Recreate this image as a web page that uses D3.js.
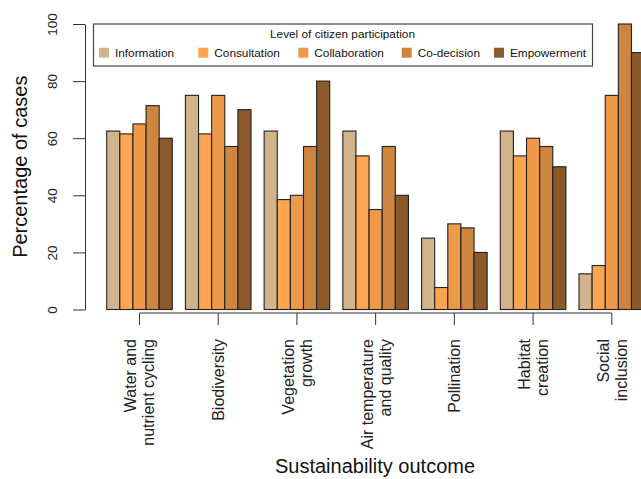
<!DOCTYPE html>
<html>
<head>
<meta charset="utf-8">
<script src="https://cdn.jsdelivr.net/npm/d3@7"></script>
<style>
  body { margin: 0; background: #fff; }
  svg { font-family: "Liberation Sans", Arial, sans-serif; display: block; }
</style>
</head>
<body>
<svg id="vis_svg" width="641" height="479"></svg>
<script>
// Data
let outcomes = ['Water and nutrient cycling', 'Biodiversity', 'Vegetation growth',
    'Air temperature and quality', 'Pollination', 'Habitat creation', 'Social inclusion'];
let outcomeLines = [['Water and', 'nutrient cycling'], ['Biodiversity'], ['Vegetation', 'growth'],
    ['Air temperature', 'and quality'], ['Pollination'], ['Habitat', 'creation'], ['Social', 'inclusion']];
let levels = ['Information', 'Consultation', 'Collaboration', 'Co-decision', 'Empowerment'];
let levelColors = ['#D2B48C', '#FFA54F', '#EE9A49', '#CD853F', '#8B5A2B'];

let information   = [62.5, 75.0, 62.5, 62.5, 25.0, 62.5, 12.5];
let consultation  = [61.5, 61.5, 38.5, 53.8,  7.7, 53.8, 15.4];
let collaboration = [65.0, 75.0, 40.0, 35.0, 30.0, 60.0, 75.0];
let coDecision    = [71.4, 57.1, 57.1, 57.1, 28.6, 57.1, 100.0];
let empowerment   = [60.0, 70.0, 80.0, 40.0, 20.0, 50.0, 90.0];
let series = [information, consultation, collaboration, coDecision, empowerment];

let yTicks = [0, 20, 40, 60, 80, 100];

let svg = d3.select('svg#vis_svg');

function translate(x, y) {
    return 'translate(' + String(x) + ',' + String(y) + ')';
}

// Scales
let x = d3.scaleBand()
    .domain(outcomes)
    .range([106.7, 644.6])
    .paddingInner(1 / 6)
    .paddingOuter(0);
let xInner = d3.scaleBand()
    .domain(levels)
    .range([0, x.bandwidth()]);
let y = d3.scaleLinear()
    .domain([0, 100])
    .range([309.5, 24]);

// Bars
let rows = [];
outcomes.forEach(function(o, i) {
    levels.forEach(function(l, j) {
        rows.push({outcome: o, level: l, value: series[j][i], color: levelColors[j]});
    });
});

svg.append('g')
    .selectAll('rect')
    .data(rows)
    .enter()
    .append('rect')
    .attr('x', d => x(d.outcome) + xInner(d.level))
    .attr('y', d => y(d.value))
    .attr('width', xInner.bandwidth())
    .attr('height', d => y(0) - y(d.value))
    .attr('fill', d => d.color)
    .attr('stroke', '#222')
    .attr('stroke-width', 1.1);

// Y axis
let yAxis = svg.append('g')
    .attr('transform', translate(85, 0))
    .call(d3.axisLeft(y).tickValues(yTicks).tickSize(12).tickSizeOuter(0));
yAxis.select('.domain').attr('stroke', '#333');
yAxis.selectAll('.tick line').attr('stroke', '#333');
yAxis.selectAll('.tick text')
    .attr('x', null).attr('dy', null)
    .attr('transform', 'translate(-28,0) rotate(-90)')
    .attr('text-anchor', 'middle')
    .attr('font-size', 13.5)
    .attr('font-family', '"Liberation Sans", Arial, sans-serif')
    .attr('fill', '#222');

// X axis: line only between first and last tick, like base R
let xAxisY = 313;
let xAxis = svg.append('g')
    .attr('transform', translate(0, xAxisY));
let centers = outcomes.map(o => x(o) + x.bandwidth() / 2);
xAxis.append('line')
    .attr('x1', d3.min(centers)).attr('x2', d3.max(centers))
    .attr('y1', 0).attr('y2', 0)
    .attr('stroke', '#333');
xAxis.selectAll('line.tick')
    .data(outcomes)
    .enter()
    .append('line')
    .attr('class', 'tick')
    .attr('x1', d => x(d) + x.bandwidth() / 2)
    .attr('x2', d => x(d) + x.bandwidth() / 2)
    .attr('y1', 0).attr('y2', 12)
    .attr('stroke', '#333');

// Rotated outcome labels
let labels = svg.append('g')
    .selectAll('text')
    .data(outcomes)
    .enter()
    .append('text')
    .attr('transform', d => translate(x(d) + x.bandwidth() / 2, 339) + ' rotate(-90)')
    .attr('text-anchor', 'end')
    .attr('font-size', 16)
    .attr('fill', '#222');
labels.each(function(d, i) {
    let lines = outcomeLines[i];
    let offsets = lines.length === 1 ? [5.5] : [-3, 15];
    d3.select(this).selectAll('tspan')
        .data(lines)
        .enter()
        .append('tspan')
        .attr('x', 0)
        .attr('y', (t, k) => offsets[k])
        .text(t => t);
});

// Axis titles
svg.append('text')
    .attr('transform', translate(27, 166.7) + ' rotate(-90)')
    .attr('text-anchor', 'middle')
    .attr('font-size', 20)
    .attr('fill', '#111')
    .text('Percentage of cases');

svg.append('text')
    .attr('x', 375)
    .attr('y', 473)
    .attr('text-anchor', 'middle')
    .attr('font-size', 20)
    .attr('fill', '#111')
    .text('Sustainability outcome');

// Legend
let legend = svg.append('g');
legend.append('rect')
    .attr('x', 93.5).attr('y', 24)
    .attr('width', 499).attr('height', 42)
    .attr('fill', '#fff')
    .attr('stroke', '#444')
    .attr('stroke-width', 1.2);
legend.append('text')
    .attr('x', 342.5).attr('y', 37.7)
    .attr('text-anchor', 'middle')
    .attr('font-size', 11.8)
    .attr('fill', '#111')
    .text('Level of citizen participation');

// item positions as in R's horizontal legend
let legendX = [99, 198.3, 298.3, 401.7, 494];
let items = legend.selectAll('g.item')
    .data(levels)
    .enter()
    .append('g')
    .attr('class', 'item')
    .attr('transform', (d, j) => translate(legendX[j], 0));
items.append('rect')
    .attr('x', 0).attr('y', 47.7)
    .attr('width', 10).attr('height', 10)
    .attr('fill', (d, j) => levelColors[j]);
items.append('text')
    .attr('x', 16).attr('y', 57)
    .attr('font-size', 11.8)
    .attr('fill', '#111')
    .text(d => d);
</script>
</body>
</html>
